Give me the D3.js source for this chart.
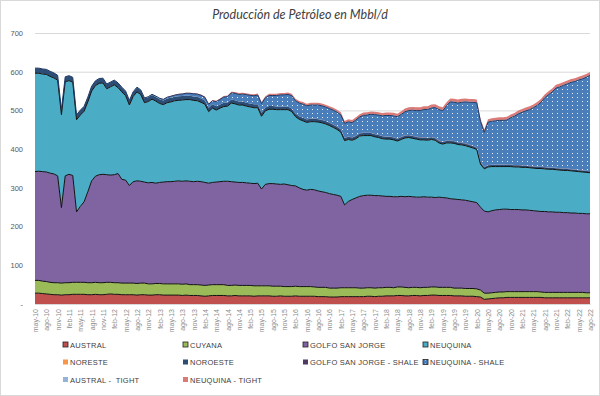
<!DOCTYPE html>
<html>
<head>
<meta charset="utf-8">
<script src="https://cdn.jsdelivr.net/npm/d3@7"></script>
<style>
  body { margin: 0; background: #fff; }
  svg { display: block; }
</style>
</head>
<body>
<svg id="chart" width="600" height="396"></svg>
<script>
// monthly production, may-10 .. ago-22 (Mbbl/d)
var austral = [
28,28,27,26,25,24,24,23,24,24,25,25,
25,25,24,24,25,24,24,25,26,25,25,24,
24,24,24,23,24,24,23,23,24,24,23,23,
23,23,23,22,23,22,22,22,21,20,21,22,
22,22,22,21,21,22,21,21,21,21,20,21,
21,21,21,20,20,21,20,20,20,21,20,20,
20,20,20,19,19,19,18,18,18,19,19,19,
19,19,19,19,20,20,19,20,20,21,21,21,
22,22,21,21,22,22,21,22,22,23,23,22,
22,22,22,21,21,21,20,20,20,19,18,12,
13,14,15,16,16,17,17,17,17,17,17,17,
17,17,17,16,16,16,16,16,16,16,16,16,
16,16,16,16];
var cuyana = [
33,33,32,32,31,31,31,31,31,31,31,31,
31,31,31,31,31,31,31,31,30,30,30,30,
30,30,30,30,30,30,29,29,29,29,29,29,
29,29,29,29,29,28,28,28,28,28,28,28,
28,28,28,27,27,27,27,27,27,27,27,26,
26,26,26,26,26,25,25,25,25,25,25,25,
25,25,24,24,24,24,23,23,23,23,23,23,
23,23,22,22,22,22,22,22,22,22,22,21,
22,22,22,21,21,21,21,21,21,21,21,21,
21,21,21,20,20,20,20,20,20,20,18,16,
15,15,15,15,15,15,15,15,15,15,15,15,
15,15,14,14,14,14,14,14,14,14,14,14,
14,14,13,13];
var golfoSanJorge = [
281,282,283,283,282,281,276,195,276,280,276,182,
196,208,235,263,274,279,280,278,277,279,282,268,
266,252,262,265,263,261,261,262,259,261,263,264,
264,265,266,266,266,267,266,267,267,266,263,264,
265,266,267,269,268,266,266,266,265,264,264,265,
250,262,264,265,264,263,265,263,261,259,255,251,
249,251,251,249,247,245,244,242,240,236,214,223,
228,232,237,239,239,239,239,238,237,235,235,235,
233,234,234,236,234,233,234,234,233,232,231,233,
232,231,229,230,229,228,228,226,224,223,214,212,
210,212,213,213,214,213,212,212,212,211,211,210,
209,208,208,209,208,208,207,207,206,206,205,205,
204,204,204,204];
var neuquina = [
254,253,252,252,250,248,247,240,243,242,241,238,
236,234,232,232,234,236,236,222,228,232,222,226,
218,208,220,230,224,205,210,215,212,204,200,204,
206,208,208,210,210,211,210,208,205,202,185,192,
186,190,193,194,203,202,200,200,198,197,196,195,
188,190,192,192,192,193,192,194,191,179,177,177,
175,175,176,178,178,177,176,173,170,166,166,160,
153,153,156,155,154,154,152,150,148,148,148,147,
144,147,152,152,151,150,148,147,147,149,148,140,
138,142,144,144,142,142,141,140,139,137,111,109,
116,114,112,111,110,110,111,110,110,110,110,110,
110,110,111,110,110,110,110,109,109,109,109,108,
108,107,107,106];
var noreste = [
0.6,0.6,0.6,0.5,0.6,0.6,0.5,0.5,0.6,0.6,0.5,0.5,
0.5,0.6,0.5,0.5,0.5,0.5,0.5,0.5,0.5,0.5,0.5,0.5,
0.5,0.5,0.5,0.5,0.4,0.5,0.5,0.4,0.4,0.5,0.4,0.4,
0.4,0.4,0.4,0.4,0.4,0.4,0.4,0.4,0.4,0.4,0.4,0.4,
0.4,0.4,0.4,0.4,0.4,0.3,0.4,0.3,0.3,0.3,0.3,0.3,
0.3,0.3,0.3,0.3,0.3,0.3,0.3,0.3,0.3,0.3,0.3,0.3,
0.3,0.3,0.3,0.3,0.3,0.3,0.3,0.3,0.3,0.3,0.3,0.3,
0.3,0.3,0.3,0.3,0.3,0.3,0.3,0.3,0.3,0.3,0.3,0.3,
0.3,0.3,0.3,0.3,0.3,0.3,0.3,0.3,0.3,0.3,0.3,0.3,
0.3,0.3,0.3,0.3,0.3,0.3,0.3,0.3,0.3,0.3,0.2,0.2,
0.2,0.2,0.2,0.2,0.2,0.2,0.2,0.2,0.2,0.2,0.2,0.2,
0.2,0.2,0.2,0.2,0.2,0.2,0.2,0.2,0.2,0.2,0.2,0.2,
0.2,0.2,0.2,0.2];
var noroeste = [
12.5,12.4,12.3,12.4,12.2,12.0,12.1,11.8,12.0,11.9,11.8,11.7,
11.8,11.7,11.6,11.7,11.5,11.5,11.4,11.3,11.2,11.3,11.1,11.0,
11.0,10.9,11.0,10.8,10.8,10.7,10.6,10.6,10.5,10.4,10.3,10.3,
10.2,10.1,10.0,10.0,9.9,9.8,9.8,9.7,9.6,9.5,9.5,9.4,
9.3,9.2,9.2,9.1,9.0,8.9,8.9,8.8,8.7,8.6,8.6,8.5,
8.4,8.3,8.3,8.2,8.1,8.0,7.9,7.9,7.8,7.7,7.6,7.6,
7.5,7.4,7.3,7.2,7.2,7.1,7.0,6.9,6.8,6.8,6.7,6.6,
6.5,6.4,6.4,6.3,6.2,6.1,6.0,6.0,5.9,5.8,5.8,5.7,
5.6,5.6,5.5,5.5,5.4,5.3,5.3,5.2,5.2,5.1,5.0,5.0,
5.0,4.9,4.9,4.8,4.8,4.7,4.7,4.6,4.6,4.5,4.3,3.9,
4.0,4.1,4.2,4.2,4.2,4.1,4.1,4.0,4.0,4.0,3.9,3.9,
3.9,3.8,3.8,3.8,3.7,3.7,3.7,3.6,3.6,3.6,3.5,3.5,
3.5,3.5,3.4,3.4];
var golfoSanJorgeShale = [
0,0,0,0,0,0,0,0,0,0,0,0,
0,0,0,0,0,0,0,0,0,0,0,0,
0,0,0,0,0,0,0,0,0,0,0,0,
0,0,0,0,0,0,0,0,0,0,0,0,
0,0,0,0,0,0,0,0,0,0,0,0,
0,0,0,0,0,0,0.1,0.1,0.2,0.2,0.2,0.3,
0.3,0.3,0.4,0.4,0.4,0.5,0.5,0.5,0.5,0.6,0.6,0.6,
0.6,0.7,0.7,0.7,0.7,0.8,0.8,0.8,0.8,0.8,0.8,0.9,
0.9,0.9,0.9,0.9,0.9,0.9,1.0,1.0,1.0,1.0,1.0,1.0,
1.0,1.0,1.0,1.0,1.0,1.0,1.0,1.0,0.9,0.9,0.8,0.6,
0.6,0.7,0.8,0.8,0.9,0.9,0.9,0.9,0.9,0.9,0.9,0.9,
0.9,0.9,0.9,0.9,0.9,0.9,0.9,0.9,0.9,0.9,0.9,0.9,
0.9,0.9,0.9,0.9];
var neuquinaShale = [
0.2,0.2,0.2,0.2,0.3,0.3,0.3,0.3,0.3,0.3,0.3,0.3,
0.3,0.3,0.4,0.4,0.4,0.4,0.4,0.4,0.5,0.5,0.5,0.5,
0.5,0.6,0.7,0.8,0.9,1.0,1.2,1.6,2.0,2.5,2.8,3.2,
4,4,5,5,6,6,7,7,8,8,9,9,
12,13,15,15,17,18,18,19,21,21,22,24,
24,25,27,27,28,30,30,31,33,33,34,35,
35,35,35,36,36,36,36,37,37,37,37,38,
38,41,42,45,46,48,50,51,52,54,54,55,
56,58,61,63,66,67,69,72,73,75,78,80,
80,90,100,100,101,104,107,109,112,115,105,90,
111,112,113,114,114,115,121,126,132,137,141,145,
151,158,166,179,188,195,206,210,215,219,224,227,
232,236,241,247];
var australTight = [
0,0,0,0,0,0,0,0,0,0,0,0,
0,0,0,0,0,0,0,0,0,0,0,0,
0,0,0,0,0,0,0,0,0,0,0,0,
0,0,0,0,0,0,0,0,0,0,0,0,
0.2,0.2,0.3,0.3,0.3,0.4,0.4,0.4,0.5,0.5,0.5,0.5,
0.6,0.6,0.6,0.7,0.7,0.7,0.8,0.8,0.8,0.8,0.9,0.9,
0.9,0.9,1.0,1.0,1.0,1.0,1.1,1.1,1.1,1.1,1.1,1.2,
1.2,1.2,1.2,1.2,1.3,1.3,1.3,1.3,1.3,1.3,1.4,1.4,
1.4,1.4,1.4,1.4,1.4,1.4,1.5,1.5,1.5,1.5,1.5,1.5,
1.5,1.5,1.5,1.5,1.5,1.4,1.4,1.4,1.4,1.4,1.2,1.0,
1.1,1.2,1.2,1.3,1.3,1.3,1.3,1.3,1.3,1.3,1.3,1.3,
1.3,1.3,1.3,1.2,1.2,1.2,1.2,1.2,1.2,1.2,1.2,1.2,
1.2,1.2,1.2,1.2];
var neuquinaTight = [
0,0,0,0,0,0,0,0,0,0,0,0,
0,0,0,0,0,0,0,0,0,0,0,0,
0,0,0,0,0,0,0.5,0.5,1,1,1,1.2,
1.2,1.3,1.4,1.5,1.5,1.6,1.8,1.9,2.0,2.0,2.1,2.2,
2.2,2.3,2.5,2.6,2.8,2.9,3.0,3.0,3.1,3.2,3.3,3.4,
3.5,3.5,3.7,3.8,3.9,4.0,4.0,4.1,4.2,4.3,4.4,4.5,
4.5,4.7,4.8,4.9,5.0,5.0,5.1,5.2,5.3,5.3,5.2,5.4,
5.5,5.7,5.8,5.9,6.0,6.0,6.1,6.2,6.3,6.4,6.4,6.5,
6.5,6.7,6.8,6.8,6.9,7.0,7.0,7.1,7.1,7.2,7.2,7.3,
7.3,7.4,7.4,7.4,7.5,7.5,7.5,7.5,7.4,7.3,6.6,5.8,
6.0,6.3,6.5,6.7,6.8,6.9,7.0,7.0,7.1,7.1,7.2,7.2,
7.2,7.3,7.3,7.3,7.4,7.4,7.4,7.5,7.5,7.5,7.5,7.5,
7.5,7.5,7.6,7.6];

var seriesNames = ["AUSTRAL", "CUYANA", "GOLFO SAN JORGE", "NEUQUINA", "NORESTE", "NOROESTE",
  "GOLFO SAN JORGE - SHALE", "NEUQUINA - SHALE", "AUSTRAL -  TIGHT", "NEUQUINA - TIGHT"];
var seriesValues = [austral, cuyana, golfoSanJorge, neuquina, noreste, noroeste,
  golfoSanJorgeShale, neuquinaShale, australTight, neuquinaTight];

var tickLabels = [
"may-10","ago-10","nov-10","feb-11","may-11","ago-11","nov-11","feb-12","may-12","ago-12",
"nov-12","feb-13","may-13","ago-13","nov-13","feb-14","may-14","ago-14","nov-14","feb-15",
"may-15","ago-15","nov-15","feb-16","may-16","ago-16","nov-16","feb-17","may-17","ago-17",
"nov-17","feb-18","may-18","ago-18","nov-18","feb-19","may-19","ago-19","nov-19","feb-20",
"may-20","ago-20","nov-20","feb-21","may-21","ago-21","nov-21","feb-22","may-22","ago-22"];

var colors = ["#C0504D", "#9BBB59", "#8064A2", "#4BACC6", "#F79646", "#2C4D75",
  "#4D3B62", "url(#dots)", "#95B3D7", "#DA7B78"];
var outline = ["#111", "#111", "#111", "#111", null, null, null, "#1F3864", null, null];

var months = d3.timeMonths(new Date(2010, 4, 1), new Date(2022, 8, 1));

var rows = months.map(function (m, i) {
  var r = { month: m };
  seriesNames.forEach(function (k, j) { r[k] = seriesValues[j][i]; });
  return r;
});

var svg = d3.select('#chart'),
    width = +svg.attr('width'),
    height = +svg.attr('height');

var x0 = 35, x1 = 590, yBase = 304, yTop = 33;

var x = d3.scalePoint().domain(d3.range(months.length)).range([x0, x1]);
var y = d3.scaleLinear().domain([0, 700]).range([yBase, yTop]);

svg.append('rect')
  .attr('x', 0.5).attr('y', 0.5)
  .attr('width', width - 1).attr('height', height - 1)
  .attr('fill', '#fff').attr('stroke', '#D9D9D9');

var pat = svg.append('defs').append('pattern')
  .attr('id', 'dots')
  .attr('patternUnits', 'userSpaceOnUse')
  .attr('width', 5).attr('height', 4);
pat.append('rect').attr('width', 5).attr('height', 4).attr('fill', '#4A7EBB');
pat.append('rect').attr('x', 2).attr('y', 1).attr('width', 1).attr('height', 1).attr('fill', '#E6EEF8');

// title
svg.append('text')
  .attr('x', 300).attr('y', 19)
  .attr('text-anchor', 'middle')
  .style('font-family', 'Lato, "Open Sans", sans-serif')
  .style('font-style', 'italic')
  .style('font-size', '12.5px')
  .style('fill', '#404040')
  .text('Producción de Petróleo en Mbbl/d');

// y axis with gridlines
var yAxis = svg.append('g')
  .attr('transform', 'translate(' + x0 + ',0)')
  .call(d3.axisLeft(y)
    .tickValues(d3.range(0, 701, 100))
    .tickSize(-(x1 - x0))
    .tickPadding(12)
    .tickFormat(function (d) { return d === 0 ? '-' : d; }));
yAxis.select('.domain').remove();
yAxis.selectAll('.tick line').attr('stroke', '#D9D9D9');
yAxis.selectAll('.tick text')
  .style('font-family', '"Liberation Sans", Arial, sans-serif')
  .style('font-size', '7.5px')
  .style('fill', '#595959');

// stacked areas
var stack = d3.stack().keys(seriesNames);
var layers = stack(rows);

var area = d3.area()
  .x(function (d, i) { return x(i); })
  .y0(function (d) { return y(d[0]); })
  .y1(function (d) { return y(d[1]); });

var topLine = d3.line()
  .x(function (d, i) { return x(i); })
  .y(function (d) { return y(d[1]); });

var g = svg.append('g');
g.selectAll('path.area')
  .data(layers)
  .enter()
  .append('path')
  .attr('class', 'area')
  .attr('d', area)
  .attr('fill', function (d, i) { return colors[i]; });

g.selectAll('path.edge')
  .data(layers.filter(function (d, i) { return outline[i]; }))
  .enter()
  .append('path')
  .attr('class', 'edge')
  .attr('d', topLine)
  .attr('fill', 'none')
  .attr('stroke', function (d) { return outline[d.index]; })
  .attr('stroke-width', 1)
  .attr('stroke-linejoin', 'round');

// x axis
var xAxis = svg.append('g')
  .attr('transform', 'translate(0,' + yBase + ')')
  .call(d3.axisBottom(x)
    .tickValues(d3.range(0, months.length, 3))
    .tickSize(0)
    .tickFormat(function (d, i) { return tickLabels[i]; }));
xAxis.select('.domain').attr('stroke', '#D9D9D9');
xAxis.selectAll('.tick text')
  .attr('transform', 'rotate(-90)')
  .attr('text-anchor', 'end')
  .attr('x', -5)
  .attr('y', 0)
  .attr('dy', '0.35em')
  .style('font-family', '"Liberation Sans", Arial, sans-serif')
  .style('font-size', '7px')
  .style('fill', '#8C8C8C');

// legend
var legend = svg.append('g')
  .selectAll('g')
  .data(seriesNames)
  .enter()
  .append('g')
  .attr('transform', function (d, i) {
    return 'translate(' + (63 + (i % 4) * 120) + ',' + (345 + Math.floor(i / 4) * 17.5) + ')';
  });

legend.append('rect')
  .attr('x', 0).attr('y', -3)
  .attr('width', 5).attr('height', 5)
  .attr('fill', function (d, i) { return colors[i]; })
  .attr('stroke', function (d, i) { return outline[i] ? '#222' : 'none'; })
  .attr('stroke-width', 0.8);

legend.append('text')
  .attr('x', 7).attr('y', 0)
  .attr('dy', '0.35em')
  .style('font-family', '"Liberation Sans", Arial, sans-serif')
  .style('font-size', '7.5px')
  .style('letter-spacing', '0.25px')
  .style('white-space', 'pre')
  .style('fill', '#404040')
  .text(function (d) { return d; });
</script>
</body>
</html>
